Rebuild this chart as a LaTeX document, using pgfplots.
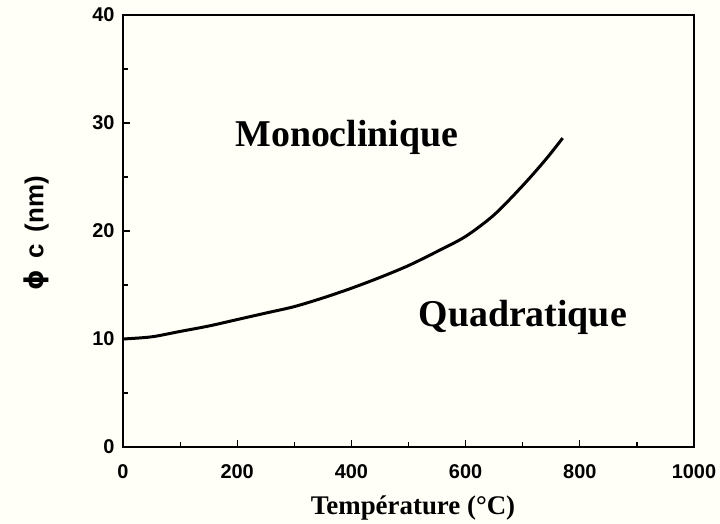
\documentclass[border=0pt]{standalone}
\usepackage{pgfplots}
\pgfplotsset{compat=1.18}
\usepackage{fontspec}
\setmainfont{Liberation Serif}
\setsansfont{Liberation Sans}
\newfontfamily\phifont{DejaVu Sans}
\begin{document}
\begin{tikzpicture}
\fill[white!97!yellow] (-123bp,-77bp) rectangle (597bp,447bp);
\begin{axis}[
  scale only axis,
  width=571bp, height=432bp,
  xmin=0, xmax=1000, ymin=0, ymax=40,
  axis line style={line width=1.6pt},
  xtick={0,200,...,1000},
  ytick={0,10,...,40},
  minor xtick={100,300,500,700,900},
  minor ytick={5,15,25,35},
  tick align=inside,
  tick style={line width=1.2pt, black},
  major tick length=7bp,
  minor tick length=5bp,
  xtick pos=bottom, ytick pos=left,
  /pgf/number format/assume math mode=true,
  /pgf/number format/1000 sep={},
  ticklabel style={font=\fontsize{20}{24}\selectfont\sffamily\bfseries},
  xticklabel style={yshift=-14bp},
  yticklabel style={xshift=-5bp},
  xlabel={Température (°C)},
  ylabel={{\phifont ϕ}\, c\, (nm)},
  xlabel style={font=\fontsize{27}{31}\selectfont\bfseries, at={(axis description cs:0.508,-0.142)}, anchor=center},
  ylabel style={font=\fontsize{26}{30}\selectfont\sffamily\bfseries, at={(axis description cs:-0.152,0.495)}, anchor=center},
  clip=false,
]
\addplot[line width=3pt, black, smooth] coordinates {
 (0,10.0) (50,10.2) (100,10.7) (150,11.2) (200,11.8) (250,12.4) (300,13.0)
 (350,13.8) (400,14.7) (450,15.7) (500,16.8) (550,18.1) (600,19.5)
 (650,21.5) (700,24.2) (740,26.6) (770,28.6)
};
\node[font=\fontsize{38}{42}\selectfont\bfseries] at (axis cs:392,28.7) {Monoclinique};
\node[font=\fontsize{38}{42}\selectfont\bfseries] at (axis cs:700,12.0) {Quadratique};
\end{axis}
\useasboundingbox (-123bp,-77bp) rectangle (597bp,447bp);
\end{tikzpicture}
\end{document}
